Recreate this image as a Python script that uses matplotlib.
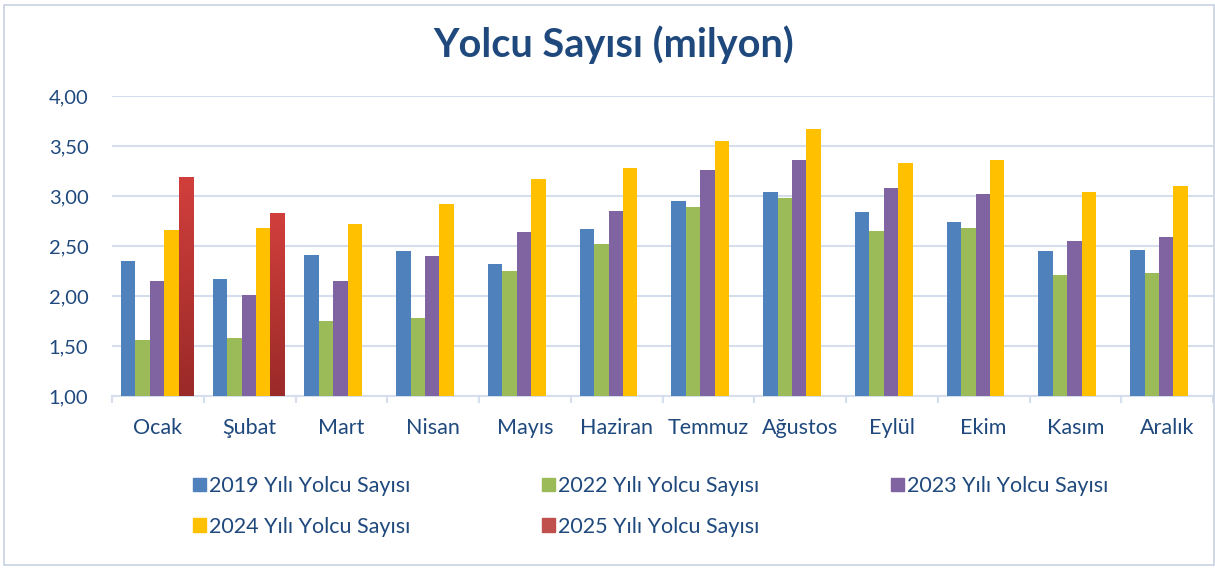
import numpy as np
import matplotlib
matplotlib.use('Agg')
import matplotlib.pyplot as plt
from matplotlib.patches import Rectangle, Patch
from matplotlib.ticker import FuncFormatter, FixedLocator
from matplotlib.colors import LinearSegmentedColormap

plt.rcParams['font.family'] = ['Lato', 'DejaVu Sans']

months = ['Ocak', 'Şubat', 'Mart', 'Nisan', 'Mayıs', 'Haziran',
          'Temmuz', 'Ağustos', 'Eylül', 'Ekim', 'Kasım', 'Aralık']
y2019 = [2.35, 2.17, 2.41, 2.45, 2.32, 2.67, 2.95, 3.04, 2.84, 2.74, 2.45, 2.46]
y2022 = [1.56, 1.58, 1.75, 1.78, 2.25, 2.52, 2.89, 2.98, 2.65, 2.68, 2.21, 2.23]
y2023 = [2.15, 2.01, 2.15, 2.40, 2.64, 2.85, 3.26, 3.36, 3.08, 3.02, 2.55, 2.59]
y2024 = [2.66, 2.68, 2.72, 2.92, 3.17, 3.28, 3.55, 3.67, 3.33, 3.36, 3.04, 3.10]
y2025 = [3.19, 2.83]
labels = ['2019 Yılı Yolcu Sayısı', '2022 Yılı Yolcu Sayısı', '2023 Yılı Yolcu Sayısı',
          '2024 Yılı Yolcu Sayısı', '2025 Yılı Yolcu Sayısı']

colors = ['#4F81BD', '#9BBB59', '#8064A2', '#FFC000', '#C0504D']
text_col = '#1F497D'
grid_col = '#D5DEEC'

fig = plt.figure(figsize=(12.15, 5.70), dpi=100)
ax = fig.add_axes([112 / 1215, 174 / 570, 1101 / 1215, 300 / 570])

x = np.arange(len(months))
w = 0.157
base = 1.0
series = [y2019, y2022, y2023, y2024]
for i, vals in enumerate(series):
    off = (i - 2) * w - 0.01
    ax.bar(x + off, np.array(vals) - base, w, bottom=base, color=colors[i], zorder=3)

# 2025 bars drawn with a vertical gradient
grad = np.linspace(0, 1, 256).reshape(-1, 1)
rcmap = LinearSegmentedColormap.from_list('r', ['#9A2A28', '#D13F3C'])
bars = ax.bar(x[:len(y2025)] + 2 * w - 0.01, np.array(y2025) - base, w,
              bottom=base, color='none', zorder=3)
for b in bars:
    x0, y0 = b.get_x(), b.get_y()
    im = ax.imshow(grad, extent=[x0, x0 + b.get_width(), y0, y0 + b.get_height()],
                   origin='lower', aspect='auto', cmap=rcmap, zorder=3)
    im.set_clip_path(b)

ax.set_xlim(-0.5, len(months) - 0.5)
ax.set_ylim(1.0, 4.0)
ax.set_yticks(np.arange(1.0, 4.01, 0.5))
ax.yaxis.set_major_formatter(FuncFormatter(lambda v, p: f'{v:.2f}'.replace('.', ',')))
ax.grid(axis='y', color=grid_col, linewidth=1.5, zorder=0)
ax.set_axisbelow(True)

ax.set_xticks(x)
ax.set_xticklabels(months)
ax.xaxis.set_minor_locator(FixedLocator(np.arange(-0.5, len(months) - 0.4, 1)))
ax.tick_params(axis='x', which='major', length=0, pad=16, labelsize=15.5, labelcolor=text_col)
ax.tick_params(axis='x', which='minor', length=5, width=1.5, color=grid_col)
ax.tick_params(axis='y', length=0, pad=17, labelsize=14.5, labelcolor=text_col)

for s in ['top', 'right', 'left']:
    ax.spines[s].set_visible(False)
ax.spines['bottom'].set_color(grid_col)
ax.spines['bottom'].set_linewidth(1.5)

fig.text(0.505, 0.921, 'Yolcu Sayısı (milyon)', ha='center', va='center',
         fontsize=28.5, fontweight='bold', color=text_col)

handles = [Patch(color=c) for c in colors]
order = [0, 3, 1, 4, 2]
fig.legend([handles[i] for i in order], [labels[i] for i in order],
           ncol=3, loc='upper left', bbox_to_anchor=(193 / 1215, 1 - 476 / 570),
           frameon=False, fontsize=15.5, labelcolor=text_col, borderpad=0,
           borderaxespad=0, handlelength=0.6, handleheight=0.6, handletextpad=0.15,
           columnspacing=6.1, labelspacing=0.97)

fig.add_artist(Rectangle((4 / 1215, 5 / 570), 1210 / 1215, 560 / 570,
                         transform=fig.transFigure, fill=False,
                         edgecolor='#C8D2E2', linewidth=1.2))

fig.savefig('out.png', dpi=100)
